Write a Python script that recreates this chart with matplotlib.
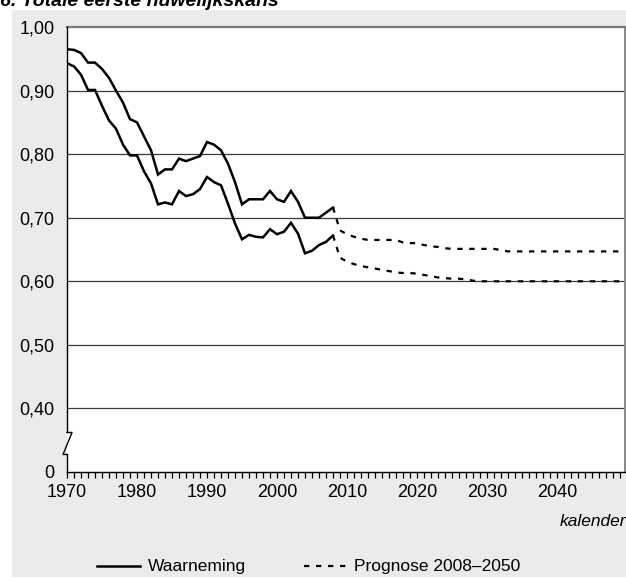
import matplotlib
matplotlib.use("Agg")
import matplotlib.pyplot as plt
from matplotlib.lines import Line2D
from matplotlib.patches import Rectangle
import numpy as np

plt.rcParams['font.family'] = ['Liberation Sans', 'DejaVu Sans']

# ---------------- data ----------------
obs_years = list(range(1970, 2009))
obs_upper = [0.965, 0.964, 0.959, 0.944, 0.944, 0.934, 0.920, 0.900, 0.881, 0.855,
             0.850, 0.828, 0.806, 0.768, 0.776, 0.776, 0.793, 0.789, 0.793, 0.797,
             0.819, 0.815, 0.806, 0.785, 0.756, 0.721, 0.729, 0.729, 0.729, 0.742,
             0.729, 0.725, 0.742, 0.725, 0.700, 0.700, 0.700, 0.708, 0.716]
obs_lower = [0.943, 0.938, 0.925, 0.901, 0.901, 0.876, 0.853, 0.840, 0.815, 0.798,
             0.798, 0.773, 0.754, 0.721, 0.724, 0.721, 0.742, 0.734, 0.737, 0.745,
             0.764, 0.756, 0.751, 0.722, 0.691, 0.666, 0.673, 0.670, 0.669, 0.682,
             0.674, 0.678, 0.692, 0.675, 0.644, 0.648, 0.657, 0.662, 0.672]

prog_years = list(range(2008, 2051))
prog_upper = [0.716, 0.680, 0.674, 0.670, 0.667, 0.665, 0.665, 0.665, 0.665, 0.665,
              0.661, 0.660, 0.660, 0.657, 0.655, 0.654, 0.652, 0.651, 0.651, 0.651,
              0.651, 0.651, 0.651, 0.651, 0.649, 0.647, 0.647, 0.647, 0.647, 0.647,
              0.647, 0.647, 0.647, 0.647, 0.647, 0.647, 0.647, 0.647, 0.647, 0.647,
              0.647, 0.647, 0.647]
prog_lower = [0.672, 0.637, 0.631, 0.627, 0.624, 0.622, 0.620, 0.618, 0.616, 0.614,
              0.613, 0.613, 0.612, 0.610, 0.608, 0.606, 0.605, 0.604, 0.604, 0.603,
              0.601, 0.600, 0.600, 0.600, 0.600, 0.600, 0.600, 0.600, 0.600, 0.600,
              0.600, 0.600, 0.600, 0.600, 0.600, 0.600, 0.600, 0.600, 0.600, 0.600,
              0.600, 0.600, 0.600]

y_ticks = [0.30, 0.40, 0.50, 0.60, 0.70, 0.80, 0.90, 1.00]
y_ticklabels = ["0", "0,40", "0,50", "0,60", "0,70", "0,80", "0,90", "1,00"]
x_ticks = [1970, 1980, 1990, 2000, 2010, 2020, 2030, 2040]

title = "6. Totale eerste huwelijkskans"
x_label = "kalender"
legend_obs = "Waarneming"
legend_prog = "Prognose 2008\u20132050"

# ---------------- figure ----------------
W, H = 626, 579
fig = plt.figure(figsize=(W / 100, H / 100), dpi=100)
fig.patch.set_facecolor("white")

def fx(px):
    return px / W

def fy(py):  # py measured from top
    return 1 - py / H

# grey panel
fig.patches.append(Rectangle((fx(12), fy(577)), fx(626) - fx(12), fy(10) - fy(577),
                             transform=fig.transFigure, facecolor="#ebebeb",
                             edgecolor="none", zorder=-10))

ax_l, ax_r, ax_t, ax_b = 67, 625, 27, 472
ax = fig.add_axes([fx(ax_l), fy(ax_b), fx(ax_r) - fx(ax_l), fy(ax_t) - fy(ax_b)])
ax.set_zorder(5)
ax.set_facecolor("white")
ax.set_xlim(1970, 1970 + (ax_r - ax_l) / 7.0)
ax.set_ylim(0.30, 1.00)

# gridlines
for yv in y_ticks[1:-1]:
    ax.axhline(yv, color="#3a3a3a", lw=0.9, zorder=1)

ax.plot(obs_years, obs_upper, color="black", lw=1.8, zorder=3, solid_joinstyle="miter")
ax.plot(obs_years, obs_lower, color="black", lw=1.8, zorder=3, solid_joinstyle="miter")
ax.plot(prog_years, prog_upper, color="black", lw=1.6, dashes=(2.4, 3.0), zorder=3)
ax.plot(prog_years, prog_lower, color="black", lw=1.6, dashes=(2.4, 3.0), zorder=3)

# spines
ax.spines["top"].set_color("#777777")
ax.spines["top"].set_linewidth(1.6)
ax.spines["right"].set_color("#888888")
ax.spines["right"].set_linewidth(1.4)
ax.spines["bottom"].set_color("black")
ax.spines["bottom"].set_linewidth(1.0)
ax.spines["left"].set_visible(False)

# left axis with break
yb1 = 1.00 - (432 - ax_t) / 635.0
yb2 = 1.00 - (454 - ax_t) / 635.0
bt = ax.get_yaxis_transform()
ax.add_line(Line2D([0, 0], [1.00, yb1], transform=bt, color="black", lw=1.0, clip_on=False, zorder=4))
ax.add_line(Line2D([0, 0], [yb2, 0.30], transform=bt, color="black", lw=1.0, clip_on=False, zorder=4))
dx1 = 5 / (ax_r - ax_l)
dx2 = -4 / (ax_r - ax_l)
ax.add_line(Line2D([0, dx1, dx2, 0], [yb1, yb1, yb2, yb2], transform=bt, color="black",
                   lw=1.0, clip_on=False, zorder=4))

# ticks
ax.set_yticks(y_ticks)
ax.set_yticklabels(y_ticklabels)
ax.tick_params(axis="y", length=0, pad=9, labelsize=13, colors="black")
ax.set_xticks(x_ticks)
ax.set_xticks(list(range(1970, 2050)), minor=True)
ax.tick_params(axis="x", which="both", direction="out", length=4.3, width=0.9,
               color="black", pad=4, labelsize=13)

# titles / labels
fig.text(0.0, fy(6), title, fontsize=14, fontweight="bold", fontstyle="italic",
         ha="left", va="baseline")
fig.text(fx(626), fy(522), x_label, fontsize=12.5, fontstyle="italic", ha="right", va="center")

# legend
ly = fy(566)
fig.lines.append(Line2D([fx(97), fx(140)], [ly, ly], transform=fig.transFigure,
                        color="black", lw=1.8))
fig.text(fx(148), ly, legend_obs, fontsize=12.5, ha="left", va="center")
fig.lines.append(Line2D([fx(304), fx(346)], [ly, ly], transform=fig.transFigure,
                        color="black", lw=1.6, dashes=(2.4, 3.0)))
fig.text(fx(354), ly, legend_prog, fontsize=12.5, ha="left", va="center")

fig.savefig("out.png", dpi=100, facecolor="white")
